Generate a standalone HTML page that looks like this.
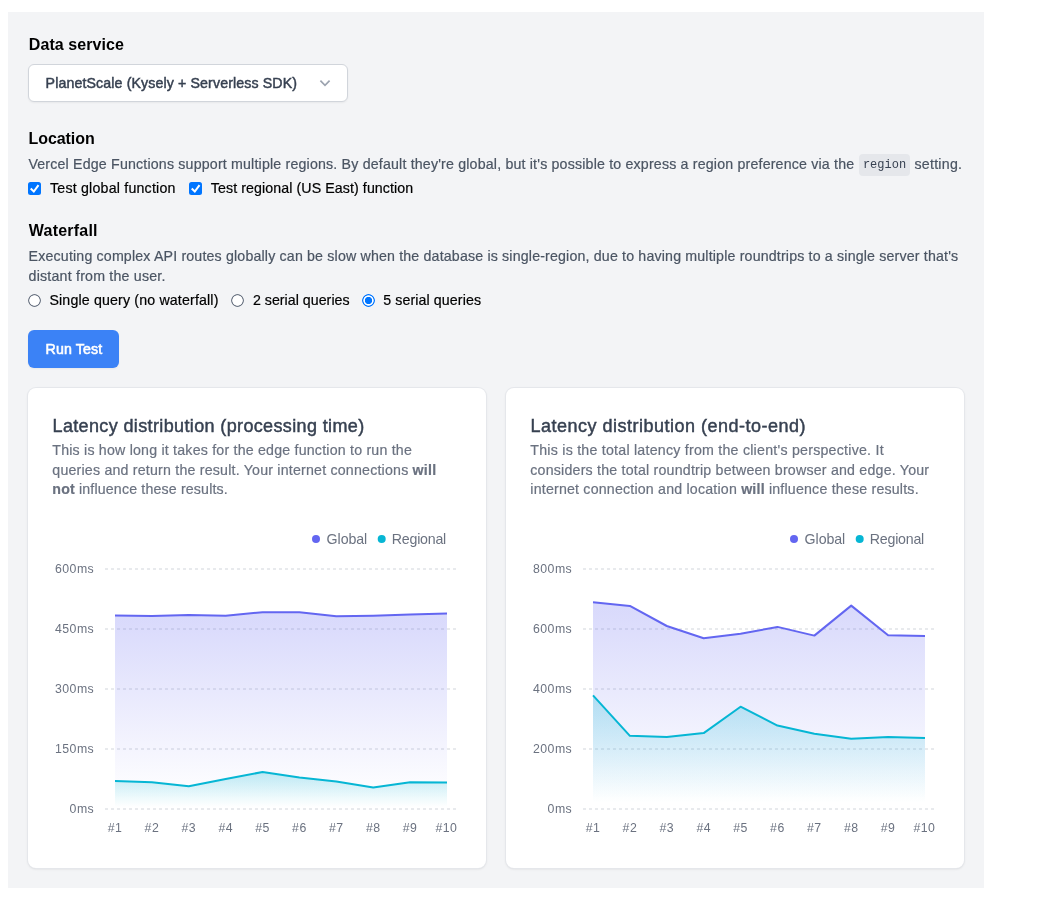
<!DOCTYPE html>
<html lang="en">
<head>
<meta charset="utf-8">
<title>Edge data latency</title>
<style>
html,body{margin:0;padding:0;background:#fff;}
body{width:1037px;height:915px;overflow:hidden;position:relative;font-family:"Liberation Sans", Arial, sans-serif;color:#000;}
.page{position:absolute;left:8px;top:12px;width:976px;height:876px;background:#f3f4f6;}
.x{position:absolute;white-space:nowrap;margin:0;padding:0;line-height:20px;height:20px;}
.h{font-weight:700;color:#000;}
.p{color:#4b5563;-webkit-text-stroke:0.2px currentColor;}
.l{color:#000;-webkit-text-stroke:0.2px currentColor;}
.d{color:#6b7280;-webkit-text-stroke:0.2px currentColor;}
.d b{font-weight:700;color:#6b7280;}
.m{-webkit-text-stroke:0.45px currentColor;}
.sel{color:#374151;}
.btn{color:#fff;-webkit-text-stroke:0.55px #fff;}
.ttl{color:#374151;font-weight:400;}
.grp{margin:0;padding:0;}
.para{margin:0;padding:0;}
.select{position:absolute;left:20px;top:52px;width:320px;height:38px;box-sizing:border-box;background:#fff;border:1px solid #d1d5db;border-radius:6px;box-shadow:0 1px 2px rgba(0,0,0,.05);}
.chev{position:absolute;left:286px;top:8px;width:20px;height:20px;}
.code{position:absolute;left:851px;top:142px;width:51px;height:22px;box-sizing:border-box;border-radius:4px;background:#e5e7eb;color:#374151;font-family:"Liberation Mono", "DejaVu Sans Mono", monospace;font-size:12px;line-height:22px;text-align:center;letter-spacing:0;}
.cb{position:absolute;width:13px;height:13px;box-sizing:border-box;border-radius:2.5px;background:#0075ff;margin:0;appearance:none;-webkit-appearance:none;}
.cbm{position:absolute;width:13px;height:13px;pointer-events:none;}
.rd{position:absolute;width:13px;height:13px;box-sizing:border-box;border-radius:50%;border:0;margin:0;appearance:none;-webkit-appearance:none;background:radial-gradient(circle at 50% 50%,#fff 0,#fff 4.9px,#6b7483 5.5px,#6b7483 6.2px,rgba(107,116,131,0) 6.8px);}
.rd.on{border:0;background:radial-gradient(circle at 50% 50%,#0075ff 0,#0075ff 3.3px,#fff 4.0px,#fff 4.8px,#0075ff 5.5px,#0075ff 6.2px,rgba(0,117,255,0) 6.8px);}
.button{position:absolute;left:20px;top:318px;width:91px;height:38px;padding:0;margin:0;font:inherit;border-radius:6px;background:#3b82f6;border:0;box-shadow:0 1px 2px rgba(0,0,0,.05);}
.card{position:absolute;width:458px;height:480px;background:#fff;border-radius:8px;box-shadow:0 0 0 1px #e5e7eb,0 1px 3px rgba(0,0,0,.1),0 1px 2px -1px rgba(0,0,0,.1);}
.chart{position:absolute;left:0;top:0;}
.chart text{font-family:"Liberation Sans", Arial, sans-serif;}
.lg text{font-size:14.2px;fill:#6b7280;}
.ax text{font-size:12.3px;fill:#6b7280;letter-spacing:0.45px;}
</style>
</head>
<body>
<main class="page">
<section class="grp">
<h2 class="x h" style="left:20.80px;top:23.00px;font-size:16.0px;line-height:20px;height:20px;letter-spacing:0.073px;">Data service</h2>
<div class="select" role="combobox">
<span class="x m sel" style="left:16.60px;top:8.00px;font-size:14.2px;line-height:20px;height:20px;letter-spacing:0.117px;">PlanetScale (Kysely + Serverless SDK)</span>
<svg class="chev" viewBox="0 0 20 20"><path d="M5.4 7.6 L10 12.3 L14.6 7.6" fill="none" stroke="#9ca3af" stroke-width="1.7"/></svg>
</div>
</section>
<section class="grp">
<h2 class="x h" style="left:20.50px;top:117.00px;font-size:16.0px;line-height:20px;height:20px;letter-spacing:-0.067px;">Location</h2>
<p class="para"><span class="x p" style="left:20.40px;top:142.00px;font-size:14.2px;line-height:20px;height:20px;letter-spacing:0.183px;">Vercel Edge Functions support multiple regions. By default they&#39;re global, but it&#39;s possible to express a region preference via the</span> <code class="code">region</code> <span class="x p" style="left:906.50px;top:142.00px;font-size:14.2px;line-height:20px;height:20px;letter-spacing:0.250px;">setting.</span></p>
<input type="checkbox" checked class="cb" style="left:20px;top:170px"><svg class="cbm" style="left:20px;top:170px" viewBox="0 0 13 13"><path d="M2.7 6.5 L5.8 9.5 L10.5 3.1" fill="none" stroke="#fff" stroke-width="2"/></svg>
<label class="x l" style="left:42.00px;top:166.00px;font-size:14.2px;line-height:20px;height:20px;letter-spacing:0.207px;">Test global function</label>
<input type="checkbox" checked class="cb" style="left:181px;top:170px"><svg class="cbm" style="left:181px;top:170px" viewBox="0 0 13 13"><path d="M2.7 6.5 L5.8 9.5 L10.5 3.1" fill="none" stroke="#fff" stroke-width="2"/></svg>
<label class="x l" style="left:202.80px;top:166.00px;font-size:14.2px;line-height:20px;height:20px;letter-spacing:0.093px;">Test regional (US East) function</label>
</section>
<section class="grp">
<h2 class="x h" style="left:20.80px;top:209.00px;font-size:16.0px;line-height:20px;height:20px;letter-spacing:0.214px;">Waterfall</h2>
<p class="para"><span class="x p" style="left:20.60px;top:234.00px;font-size:14.2px;line-height:20px;height:20px;letter-spacing:0.171px;">Executing complex API routes globally can be slow when the database is single-region, due to having multiple roundtrips to a single server that&#39;s</span> <span class="x p" style="left:20.60px;top:254.00px;font-size:14.2px;line-height:20px;height:20px;letter-spacing:0.206px;">distant from the user.</span></p>
<input type="radio" name="w" class="rd" style="left:20px;top:282px">
<label class="x l" style="left:41.40px;top:278.00px;font-size:14.2px;line-height:20px;height:20px;letter-spacing:0.161px;">Single query (no waterfall)</label>
<input type="radio" name="w" class="rd" style="left:223px;top:282px">
<label class="x l" style="left:244.90px;top:278.00px;font-size:14.2px;line-height:20px;height:20px;letter-spacing:0.032px;">2 serial queries</label>
<input type="radio" name="w" checked class="rd on" style="left:354px;top:282px">
<label class="x l" style="left:375.30px;top:278.00px;font-size:14.2px;line-height:20px;height:20px;letter-spacing:0.099px;">5 serial queries</label>
</section>
<button class="button" type="button"><span class="x m btn" style="left:17.50px;top:9.00px;font-size:14.2px;line-height:20px;height:20px;letter-spacing:0.138px;">Run Test</span></button>
<section class="card" style="left:20px;top:376px">
<h3 class="x m ttl" style="left:24.50px;top:24.00px;font-size:18.0px;line-height:28px;height:28px;letter-spacing:0.366px;">Latency distribution (processing time)</h3>
<p class="para"><span class="x d" style="left:24.30px;top:52.00px;font-size:14.2px;line-height:20px;height:20px;letter-spacing:0.205px;">This is how long it takes for the edge function to run the</span> <span class="x d" style="left:24.30px;top:72.00px;font-size:14.2px;line-height:20px;height:20px;letter-spacing:0.205px;">queries and return the result. Your internet connections <b>will</b></span> <span class="x d" style="left:24.30px;top:91.00px;font-size:14.2px;line-height:20px;height:20px;letter-spacing:0.162px;"><b>not</b> influence these results.</span></p>
<svg class="chart" width="458" height="480" viewBox="0 0 458 480">
<defs><linearGradient id="gia" x1="0" y1="0" x2="0" y2="1"><stop offset="5%" stop-color="#6366f1" stop-opacity="0.4"/><stop offset="95%" stop-color="#6366f1" stop-opacity="0"/></linearGradient><linearGradient id="gca" x1="0" y1="0" x2="0" y2="1"><stop offset="5%" stop-color="#06b6d4" stop-opacity="0.4"/><stop offset="95%" stop-color="#06b6d4" stop-opacity="0"/></linearGradient></defs>
<g class="lg">
<circle cx="288.0" cy="151.0" r="4" fill="#6366f1"/>
<text x="298.6" y="155.8" textLength="40.6" lengthAdjust="spacing">Global</text>
<circle cx="353.7" cy="151.0" r="4" fill="#06b6d4"/>
<text x="363.8" y="155.8" textLength="54.4" lengthAdjust="spacing">Regional</text>
</g>
<g stroke="#d1d5db" stroke-width="1" stroke-dasharray="3 3" fill="none">
<line x1="77" y1="181" x2="429" y2="181"/>
<line x1="77" y1="241" x2="429" y2="241"/>
<line x1="77" y1="301" x2="429" y2="301"/>
<line x1="77" y1="361" x2="429" y2="361"/>
<line x1="77" y1="421" x2="429" y2="421"/>
</g>
<g class="ax" text-anchor="end">
<text x="66.2" y="185.1">600ms</text>
<text x="66.2" y="245.1">450ms</text>
<text x="66.2" y="305.1">300ms</text>
<text x="66.2" y="365.1">150ms</text>
<text x="66.2" y="425.1">0ms</text>
</g>
<g class="ax" text-anchor="middle">
<text x="87.0" y="443.9">#1</text>
<text x="123.9" y="443.9">#2</text>
<text x="160.8" y="443.9">#3</text>
<text x="197.7" y="443.9">#4</text>
<text x="234.6" y="443.9">#5</text>
<text x="271.4" y="443.9">#6</text>
<text x="308.3" y="443.9">#7</text>
<text x="345.2" y="443.9">#8</text>
<text x="382.1" y="443.9">#9</text>
<text x="429.4" y="443.9" text-anchor="end">#10</text>
</g>
<path d="M87.00,227.60L123.89,228.00L160.78,227.00L197.67,227.80L234.56,224.20L271.44,224.20L308.33,228.20L345.22,227.80L382.11,226.60L419.00,225.60L419.00,421.00L87.00,421.00Z" fill="url(#gia)" fill-opacity="0.6"/>
<path d="M87.00,227.60L123.89,228.00L160.78,227.00L197.67,227.80L234.56,224.20L271.44,224.20L308.33,228.20L345.22,227.80L382.11,226.60L419.00,225.60" fill="none" stroke="#6366f1" stroke-width="2" stroke-linejoin="round" stroke-linecap="butt"/>
<path d="M87.00,393.00L123.89,394.20L160.78,398.20L197.67,391.00L234.56,384.00L271.44,389.40L308.33,393.40L345.22,399.40L382.11,394.20L419.00,394.40L419.00,421.00L87.00,421.00Z" fill="url(#gca)" fill-opacity="0.6"/>
<path d="M87.00,393.00L123.89,394.20L160.78,398.20L197.67,391.00L234.56,384.00L271.44,389.40L308.33,393.40L345.22,399.40L382.11,394.20L419.00,394.40" fill="none" stroke="#06b6d4" stroke-width="2" stroke-linejoin="round" stroke-linecap="butt"/>
</svg>
</section>
<section class="card" style="left:498px;top:376px">
<h3 class="x m ttl" style="left:24.50px;top:24.00px;font-size:18.0px;line-height:28px;height:28px;letter-spacing:0.492px;">Latency distribution (end-to-end)</h3>
<p class="para"><span class="x d" style="left:24.30px;top:52.00px;font-size:14.2px;line-height:20px;height:20px;letter-spacing:0.239px;">This is the total latency from the client&#39;s perspective. It</span> <span class="x d" style="left:24.30px;top:72.00px;font-size:14.2px;line-height:20px;height:20px;letter-spacing:0.209px;">considers the total roundtrip between browser and edge. Your</span> <span class="x d" style="left:24.30px;top:91.00px;font-size:14.2px;line-height:20px;height:20px;letter-spacing:0.198px;">internet connection and location <b>will</b> influence these results.</span></p>
<svg class="chart" width="458" height="480" viewBox="0 0 458 480">
<defs><linearGradient id="gib" x1="0" y1="0" x2="0" y2="1"><stop offset="5%" stop-color="#6366f1" stop-opacity="0.4"/><stop offset="95%" stop-color="#6366f1" stop-opacity="0"/></linearGradient><linearGradient id="gcb" x1="0" y1="0" x2="0" y2="1"><stop offset="5%" stop-color="#06b6d4" stop-opacity="0.4"/><stop offset="95%" stop-color="#06b6d4" stop-opacity="0"/></linearGradient></defs>
<g class="lg">
<circle cx="288.0" cy="151.0" r="4" fill="#6366f1"/>
<text x="298.6" y="155.8" textLength="40.6" lengthAdjust="spacing">Global</text>
<circle cx="353.7" cy="151.0" r="4" fill="#06b6d4"/>
<text x="363.8" y="155.8" textLength="54.4" lengthAdjust="spacing">Regional</text>
</g>
<g stroke="#d1d5db" stroke-width="1" stroke-dasharray="3 3" fill="none">
<line x1="77" y1="181" x2="429" y2="181"/>
<line x1="77" y1="241" x2="429" y2="241"/>
<line x1="77" y1="301" x2="429" y2="301"/>
<line x1="77" y1="361" x2="429" y2="361"/>
<line x1="77" y1="421" x2="429" y2="421"/>
</g>
<g class="ax" text-anchor="end">
<text x="66.2" y="185.1">800ms</text>
<text x="66.2" y="245.1">600ms</text>
<text x="66.2" y="305.1">400ms</text>
<text x="66.2" y="365.1">200ms</text>
<text x="66.2" y="425.1">0ms</text>
</g>
<g class="ax" text-anchor="middle">
<text x="87.0" y="443.9">#1</text>
<text x="123.9" y="443.9">#2</text>
<text x="160.8" y="443.9">#3</text>
<text x="197.7" y="443.9">#4</text>
<text x="234.6" y="443.9">#5</text>
<text x="271.4" y="443.9">#6</text>
<text x="308.3" y="443.9">#7</text>
<text x="345.2" y="443.9">#8</text>
<text x="382.1" y="443.9">#9</text>
<text x="429.4" y="443.9" text-anchor="end">#10</text>
</g>
<path d="M87.00,214.30L123.89,217.90L160.78,238.00L197.67,250.30L234.56,245.80L271.44,238.90L308.33,247.60L345.22,217.60L382.11,247.30L419.00,247.90L419.00,421.00L87.00,421.00Z" fill="url(#gib)" fill-opacity="0.6"/>
<path d="M87.00,214.30L123.89,217.90L160.78,238.00L197.67,250.30L234.56,245.80L271.44,238.90L308.33,247.60L345.22,217.60L382.11,247.30L419.00,247.90" fill="none" stroke="#6366f1" stroke-width="2" stroke-linejoin="round" stroke-linecap="butt"/>
<path d="M87.00,307.30L123.89,347.80L160.78,349.00L197.67,345.10L234.56,318.70L271.44,337.60L308.33,345.70L345.22,350.80L382.11,349.00L419.00,349.90L419.00,421.00L87.00,421.00Z" fill="url(#gcb)" fill-opacity="0.6"/>
<path d="M87.00,307.30L123.89,347.80L160.78,349.00L197.67,345.10L234.56,318.70L271.44,337.60L308.33,345.70L345.22,350.80L382.11,349.00L419.00,349.90" fill="none" stroke="#06b6d4" stroke-width="2" stroke-linejoin="round" stroke-linecap="butt"/>
</svg>
</section>
</main>
</body>
</html>
